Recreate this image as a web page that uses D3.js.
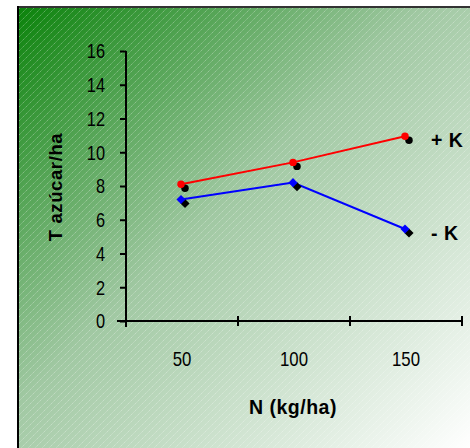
<!DOCTYPE html>
<html><head><meta charset="utf-8">
<script src="https://cdn.jsdelivr.net/npm/d3@7"></script>
<style>body{margin:0;background:#fff}svg{display:block}</style>
</head><body>
<script>
const categories = ["50", "100", "150"];
const plusK = [8.1, 9.4, 10.95];
const minusK = [7.2, 8.2, 5.45];
const yTicks = [0, 2, 4, 6, 8, 10, 12, 14, 16];
const seriesNames = ["+ K", "- K"];

const W = 470, H = 448;
const svg = d3.select("body").append("svg").attr("width", W).attr("height", H);
const defs = svg.append("defs");
const grad = defs.append("linearGradient").attr("id", "bg")
  .attr("x1", 0).attr("y1", 0).attr("x2", 1).attr("y2", 1);
grad.append("stop").attr("offset", 0).attr("stop-color", "#0a820a");
grad.append("stop").attr("offset", 0.45).attr("stop-color", "#a0c8a2");
grad.append("stop").attr("offset", 1).attr("stop-color", "#ffffff");
const pat = defs.append("pattern").attr("id", "hatch").attr("patternUnits", "userSpaceOnUse")
  .attr("width", 7).attr("height", 7);
pat.append("path").attr("d", "M-1,8 L8,-1 M-1,1 L1,-1 M6,8 L8,6")
  .attr("stroke", "rgba(255,255,255,0.3)").attr("stroke-width", 1).attr("stroke-dasharray", "1.5,0.6");

svg.append("rect").attr("x", 17).attr("y", 6).attr("width", W - 17).attr("height", H - 6).attr("fill", "url(#bg)");
svg.append("rect").attr("x", 17).attr("y", 6).attr("width", W - 17).attr("height", H - 6).attr("fill", "url(#hatch)");
svg.append("line").attr("x1", 17).attr("x2", W).attr("y1", 7).attr("y2", 7).attr("stroke", "#333").attr("stroke-width", 2);
svg.append("line").attr("x1", 18).attr("x2", 18).attr("y1", 6).attr("y2", H).attr("stroke", "#000").attr("stroke-width", 2);

const x0 = 126, x1 = 462, yTop = 51, yBot = 321;
const x = d3.scaleBand().domain(categories).range([x0, x1]);
const y = d3.scaleLinear().domain([0, 16]).range([yBot, yTop]);

const tickFont = "Arial,'Liberation Sans',sans-serif";
const sx = 0.84;
// Y axis
const gy = svg.append("g").attr("transform", `translate(${x0},0)`)
  .call(d3.axisLeft(y).tickValues(yTicks).tickSize(6).tickPadding(0).tickFormat(d3.format("d")));
gy.select(".domain").attr("stroke", "#000").attr("stroke-width", 2).attr("d", `M0,${yTop}V${yBot + 6}`);
gy.selectAll(".tick line").attr("stroke", "#000").attr("stroke-width", 2);
gy.selectAll(".tick text").attr("font-family", tickFont).attr("font-size", 19.5).attr("fill", "#000")
  .attr("x", null).attr("dy", "0.35em")
  .attr("transform", `translate(-21,0) scale(${sx},1)`);

// X axis
const gx = svg.append("g").attr("transform", `translate(0,${yBot})`);
gx.append("line").attr("x1", x0 - 9).attr("x2", x1).attr("y1", 0).attr("y2", 0).attr("stroke", "#000").attr("stroke-width", 2);
const bounds = categories.map(c => x(c)).concat([x1]);
gx.selectAll(".xt").data(bounds.slice(1)).join("line")
  .attr("x1", d => d).attr("x2", d => d).attr("y1", -5).attr("y2", 5)
  .attr("stroke", "#000").attr("stroke-width", 2);
gx.selectAll(".xl").data(categories).join("text")
  .attr("transform", d => `translate(${x(d) + x.bandwidth() / 2},45) scale(${sx},1)`)
  .attr("text-anchor", "middle").attr("font-family", tickFont).attr("font-size", 20).text(d => d);

const cx = c => x(c) + x.bandwidth() / 2 - 1;
const line = d3.line().x((d, i) => cx(categories[i])).y(d => y(d));

// series
const data = [
  { name: seriesNames[0], values: plusK, color: "#ff0000", shape: d3.symbolCircle, size: 44, rot: 0 },
  { name: seriesNames[1], values: minusK, color: "#0000ff", shape: d3.symbolSquare, size: 42, rot: 45 }
];
data.forEach(s => {
  svg.append("path").attr("d", line(s.values)).attr("fill", "none").attr("stroke", s.color).attr("stroke-width", 2);
  const sym = d3.symbol().type(s.shape).size(s.size);
  svg.append("g").selectAll("path").data(s.values).join("path")
    .attr("transform", (d, i) => `translate(${cx(categories[i]) + 4},${y(d) + 4}) rotate(${s.rot})`)
    .attr("d", sym).attr("fill", "#000");
  svg.append("g").selectAll("path").data(s.values).join("path")
    .attr("transform", (d, i) => `translate(${cx(categories[i])},${y(d)}) rotate(${s.rot})`)
    .attr("d", sym).attr("fill", s.color);
  svg.append("text").attr("x", 431).attr("y", y(s.values[2]) + 11)
    .attr("font-family", "Arial, 'Liberation Sans', sans-serif").attr("font-weight", "bold")
    .attr("font-size", 19.5).attr("letter-spacing", 0.5).text(s.name);
});

// titles
svg.append("text").attr("transform", `translate(62,187) rotate(-90)`)
  .attr("text-anchor", "middle").attr("font-family", "Arial, 'Liberation Sans', sans-serif")
  .attr("font-weight", "bold").attr("font-size", 18.5).attr("letter-spacing", 0.6).text("T azúcar/ha");
svg.append("text").attr("x", 293).attr("y", 414).attr("text-anchor", "middle")
  .attr("font-family", "Arial, 'Liberation Sans', sans-serif")
  .attr("font-weight", "bold").attr("font-size", 19.5).attr("letter-spacing", 0.5).text("N (kg/ha)");
</script>
</body></html>
